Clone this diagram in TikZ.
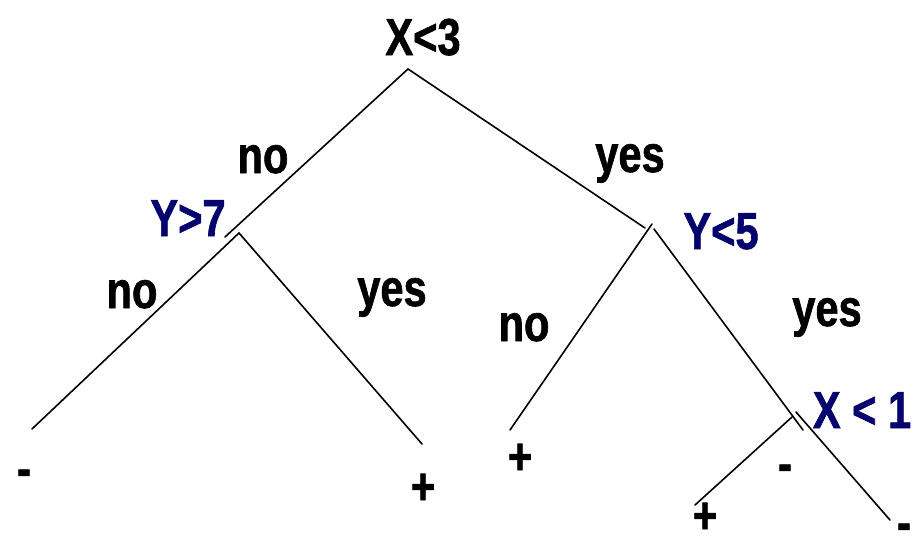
\documentclass[tikz,border=0pt]{standalone}
\usepackage{fontspec}
\newfontfamily\lblfont{Liberation Sans}[FakeStretch=0.8,BoldFeatures={FakeBold=1.2}]
\definecolor{testblue}{RGB}{4,4,108}
\tikzset{
  branch/.style={line width=1.6pt, line cap=round},
  lbl/.style={inner sep=0pt, anchor=base, font=\lblfont\bfseries\fontsize{52}{60}\selectfont},
  cond/.style={lbl, text=black},
  test/.style={lbl, text=testblue},
  leaf/.style={inner sep=0pt, anchor=center, font=\lblfont\bfseries\fontsize{52}{60}\selectfont}
}
\begin{document}
\begin{tikzpicture}[x=1pt,y=-1pt]
\useasboundingbox (0,0) rectangle (920,538);
\clip (0,0) rectangle (920,538);

% branch points and free ends of the tree
\coordinate (root) at (408,69);
\coordinate (rootL) at (225,237);
\coordinate (rootR) at (645,228);
\coordinate (y7) at (239,233);
\coordinate (y7L) at (32,429);
\coordinate (y7R) at (422,444);
\coordinate (y5) at (652,224);
\coordinate (y5Rs) at (654,229);
\coordinate (y5L) at (510,430);
\coordinate (y5R) at (803,430);
\coordinate (x1) at (792,417);
\coordinate (x1Rs) at (796,412);
\coordinate (x1L) at (695,505);
\coordinate (x1R) at (890,520);

% branches
\draw[branch] (root) -- (rootL);
\draw[branch] (root) -- (rootR);
\draw[branch] (y7) -- (y7L);
\draw[branch] (y7) -- (y7R);
\draw[branch] (y5) -- (y5L);
\draw[branch] (y5Rs) -- (y5R);
\draw[branch] (x1) -- (x1L);
\draw[branch] (x1Rs) -- (x1R);

% tests
\node[cond] (t0) at (423,55) {X<3};
\node[test] (t1) at (188,236) {Y>7};
\node[test] (t2) at (721,249) {Y<5};
\node[test] (t3) at (862,428) {X < 1};

% branch labels
\node[cond] (a1) at (263,173) {no};
\node[cond] (a2) at (630,172) {yes};
\node[cond] (a3) at (132,308) {no};
\node[cond] (a4) at (392,306) {yes};
\node[cond] (a5) at (524,341) {no};
\node[cond] (a6) at (827,326) {yes};

% leaves
\node[leaf] (c1) at (24,478) {-};
\node[leaf] (c2) at (423,489) {+};
\node[leaf] (c3) at (520,459) {+};
\node[leaf] (c4) at (785,473) {-};
\node[leaf] (c5) at (705,518) {+};
\node[leaf] (c6) at (904,532) {-};
\end{tikzpicture}
\end{document}
